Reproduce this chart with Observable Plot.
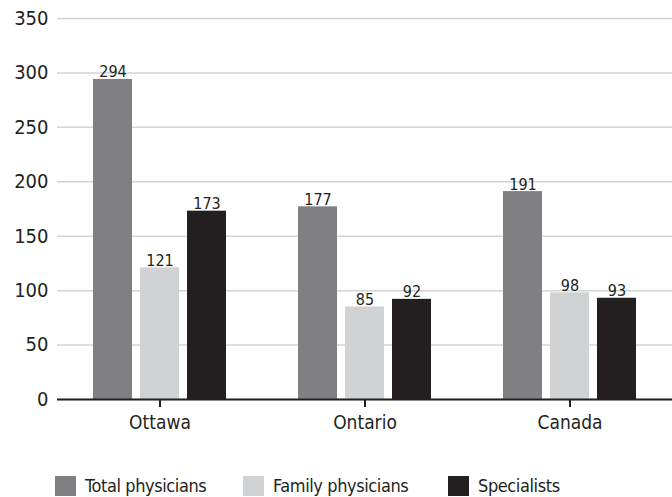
<!DOCTYPE html>
<html>
<head>
<meta charset="utf-8">
<script src="https://cdn.jsdelivr.net/npm/d3@7"></script>
<script src="https://cdn.jsdelivr.net/npm/@observablehq/plot@0.6"></script>
<style>
  html, body { margin: 0; padding: 0; background: #fff; overflow: hidden; width: 672px; height: 497px; }
  body { font-family: "Liberation Sans Narrow", "DejaVu Sans Condensed", "Roboto", sans-serif; font-stretch: condensed; }
  #legend { position: relative; width: 672px; height: 52px; color: #231f20; }
  .item { position: absolute; top: 30px; display: flex; align-items: center; white-space: nowrap; height: 21px; }
  .sw { width: 21px; height: 20px; margin-right: 9px; }
  .lab { font-size: 18px; line-height: 21px; letter-spacing: -0.4px; }
</style>
</head>
<body>
<div id="chart"></div>
<div id="legend"></div>
<script>
const regions = ["Ottawa", "Ontario", "Canada"];
const series = ["Total physicians", "Family physicians", "Specialists"];
const totalPhysicians = [294, 177, 191];
const familyPhysicians = [121, 85, 98];
const specialists = [173, 92, 93];
const yTicks = [0, 50, 100, 150, 200, 250, 300, 350];
const colors = ["#808083", "#d1d2d4", "#231f20"];

const seriesValues = [totalPhysicians, familyPhysicians, specialists];
const data = [];
regions.forEach((r, i) => {
  series.forEach((s, j) => {
    data.push({ region: r, series: s, value: seriesValues[j][i] });
  });
});

const font = '"Liberation Sans Narrow", "DejaVu Sans Condensed", "Roboto", sans-serif';

const chart = Plot.plot({
  width: 672,
  height: 445,
  marginLeft: 56,
  marginRight: 0,
  marginTop: 18,
  marginBottom: 46,
  style: { fontFamily: font, color: "#231f20", background: "#fff" },
  fx: { domain: regions, padding: 0, label: null },
  x: { domain: series, paddingInner: 0.18, paddingOuter: 0.74, axis: null },
  y: { domain: [0, 350], label: null },
  color: { domain: series, range: colors },
  marks: [
    Plot.gridY(yTicks, { stroke: "#d4d4d4", strokeOpacity: 1, strokeWidth: 1.5 }),
    Plot.barY(data, { fx: "region", x: "series", y: "value", fill: "series" }),
    Plot.text(data, { fx: "region", x: "series", y: "value", text: d => String(d.value), lineAnchor: "bottom", dy: -2, fontSize: 16, letterSpacing: "-0.5px", fill: "#231f20" }),
    Plot.ruleY([0], { stroke: "#231f20", strokeWidth: 2 }),
    Plot.axisY(yTicks, { tickSize: 0, tickPadding: 9, fontSize: 20, fill: "#231f20" }),
    Plot.axisFx({ anchor: "bottom", tickSize: 8, tickPadding: 8, fontSize: 19, stroke: "#231f20", strokeWidth: 2, fill: "#231f20", label: null })
  ]
});
document.getElementById("chart").appendChild(chart);

const legendLefts = [55, 243, 448];
const legend = document.getElementById("legend");
series.forEach((s, i) => {
  const item = document.createElement("div");
  item.className = "item";
  item.style.left = legendLefts[i] + "px";
  const sw = document.createElement("div");
  sw.className = "sw";
  sw.style.background = colors[i];
  const lab = document.createElement("span");
  lab.className = "lab";
  lab.textContent = s;
  item.appendChild(sw);
  item.appendChild(lab);
  legend.appendChild(item);
});
</script>
</body>
</html>
